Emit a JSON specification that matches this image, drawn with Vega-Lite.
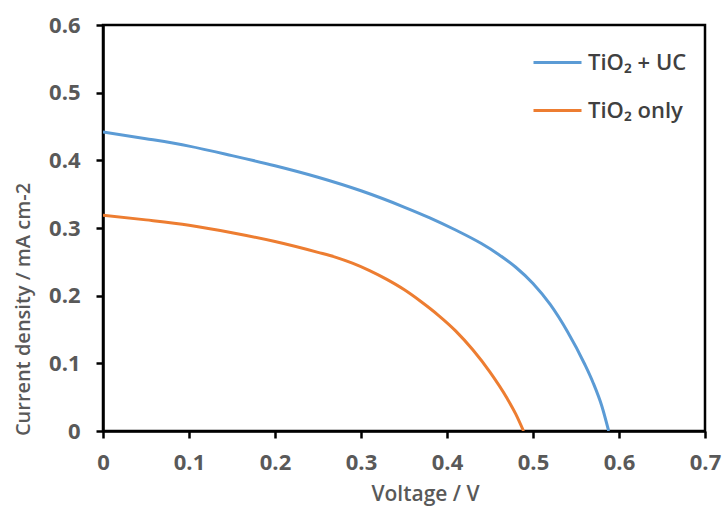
{
  "$schema": "https://vega.github.io/schema/vega-lite/v6.json",
  "autosize": {"type": "none"},
  "padding": {"left": 103, "top": 25, "right": 18, "bottom": 75},
  "width": 602,
  "height": 406,
  "background": "white",
  "config": {
    "view": {"stroke": "black", "strokeWidth": 2.5},
    "font": "Open Sans"
  },
  "data": {
    "values": [
      {"v": 0.0, "j": 0.442, "s": "TiO₂ + UC"},
      {"v": 0.05, "j": 0.432, "s": "TiO₂ + UC"},
      {"v": 0.1, "j": 0.421, "s": "TiO₂ + UC"},
      {"v": 0.15, "j": 0.407, "s": "TiO₂ + UC"},
      {"v": 0.2, "j": 0.392, "s": "TiO₂ + UC"},
      {"v": 0.25, "j": 0.375, "s": "TiO₂ + UC"},
      {"v": 0.3, "j": 0.355, "s": "TiO₂ + UC"},
      {"v": 0.35, "j": 0.331, "s": "TiO₂ + UC"},
      {"v": 0.38, "j": 0.315, "s": "TiO₂ + UC"},
      {"v": 0.41, "j": 0.297, "s": "TiO₂ + UC"},
      {"v": 0.44, "j": 0.277, "s": "TiO₂ + UC"},
      {"v": 0.46, "j": 0.261, "s": "TiO₂ + UC"},
      {"v": 0.48, "j": 0.242, "s": "TiO₂ + UC"},
      {"v": 0.5, "j": 0.218, "s": "TiO₂ + UC"},
      {"v": 0.52, "j": 0.187, "s": "TiO₂ + UC"},
      {"v": 0.54, "j": 0.147, "s": "TiO₂ + UC"},
      {"v": 0.56, "j": 0.099, "s": "TiO₂ + UC"},
      {"v": 0.57, "j": 0.071, "s": "TiO₂ + UC"},
      {"v": 0.58, "j": 0.037, "s": "TiO₂ + UC"},
      {"v": 0.588, "j": 0.0, "s": "TiO₂ + UC"},
      {"v": 0.0, "j": 0.319, "s": "TiO₂ only"},
      {"v": 0.05, "j": 0.312, "s": "TiO₂ only"},
      {"v": 0.1, "j": 0.304, "s": "TiO₂ only"},
      {"v": 0.15, "j": 0.293, "s": "TiO₂ only"},
      {"v": 0.2, "j": 0.28, "s": "TiO₂ only"},
      {"v": 0.25, "j": 0.264, "s": "TiO₂ only"},
      {"v": 0.27, "j": 0.257, "s": "TiO₂ only"},
      {"v": 0.29, "j": 0.248, "s": "TiO₂ only"},
      {"v": 0.31, "j": 0.237, "s": "TiO₂ only"},
      {"v": 0.33, "j": 0.224, "s": "TiO₂ only"},
      {"v": 0.35, "j": 0.209, "s": "TiO₂ only"},
      {"v": 0.37, "j": 0.191, "s": "TiO₂ only"},
      {"v": 0.39, "j": 0.171, "s": "TiO₂ only"},
      {"v": 0.41, "j": 0.148, "s": "TiO₂ only"},
      {"v": 0.43, "j": 0.12, "s": "TiO₂ only"},
      {"v": 0.45, "j": 0.087, "s": "TiO₂ only"},
      {"v": 0.47, "j": 0.048, "s": "TiO₂ only"},
      {"v": 0.48, "j": 0.025, "s": "TiO₂ only"},
      {"v": 0.489, "j": 0.0, "s": "TiO₂ only"}
    ]
  },
  "mark": {"type": "line", "strokeWidth": 3, "interpolate": "monotone", "clip": true},
  "encoding": {
    "x": {
      "field": "v", "type": "quantitative",
      "scale": {"domain": [0, 0.7], "nice": false},
      "axis": {
        "title": "Voltage / V",
        "values": [0, 0.1, 0.2, 0.3, 0.4, 0.5, 0.6, 0.7],
        "labelExpr": "datum.value == 0 ? '0' : format(datum.value, '.1f')",
        "grid": false,
        "domainColor": "black", "domainWidth": 2.5,
        "tickColor": "black", "tickWidth": 2.5, "tickSize": 7,
        "labelFont": "Open Sans", "labelFontSize": 22, "labelFontWeight": "bold",
        "labelColor": "#595959", "labelPadding": 14, "labelFlush": false,
        "titleFont": "Open Sans", "titleFontSize": 21, "titleFontWeight": 600,
        "titleColor": "#595959",
        "titleX": 322, "titleY": 69, "titleBaseline": "alphabetic", "titleAlign": "center"
      }
    },
    "y": {
      "field": "j", "type": "quantitative",
      "scale": {"domain": [0, 0.6], "nice": false},
      "axis": {
        "title": "Current density / mA cm-2",
        "values": [0, 0.1, 0.2, 0.3, 0.4, 0.5, 0.6],
        "labelExpr": "datum.value == 0 ? '0' : format(datum.value, '.1f')",
        "grid": false,
        "domainColor": "black", "domainWidth": 2.5,
        "tickColor": "black", "tickWidth": 2.5, "tickSize": 7,
        "labelFont": "Open Sans", "labelFontSize": 22, "labelFontWeight": "bold",
        "labelColor": "#595959", "labelPadding": 16, "labelFlush": false,
        "titleFont": "Open Sans", "titleFontSize": 20, "titleFontWeight": 600,
        "titleColor": "#595959",
        "titleX": -80, "titleY": 284, "titleAngle": -90, "titleBaseline": "middle", "titleAlign": "center"
      }
    },
    "color": {
      "field": "s", "type": "nominal",
      "scale": {"domain": ["TiO₂ + UC", "TiO₂ only"], "range": ["#5B9BD5", "#ED7D31"]},
      "legend": {
        "title": null,
        "orient": "none",
        "legendX": 429,
        "legendY": 12,
        "padding": 0,
        "symbolType": "stroke",
        "symbolSize": 2304,
        "symbolStrokeWidth": 3,
        "rowPadding": 11,
        "labelOffset": 5,
        "labelFont": "Open Sans",
        "labelFontSize": 22,
        "labelFontWeight": 600,
        "labelColor": "#404040"
      }
    }
  }
}
